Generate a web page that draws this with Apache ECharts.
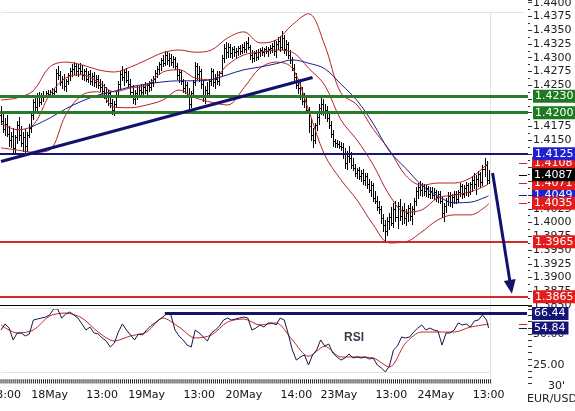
<!DOCTYPE html>
<html><head><meta charset="utf-8">
<script src="https://cdn.jsdelivr.net/npm/echarts/dist/echarts.min.js"></script>
<style>html,body{margin:0;padding:0;background:#fff}#c{width:575px;height:411px}</style>
</head><body><div id="c"></div>
<script>
// ---------- DATA ----------
const NCAT = 261; // category slots (bars + right margin)
const NTICK = 243; // bars carrying an axis tick
const tickLabelIdx  = [2, 24, 50, 72, 98, 120, 146, 167, 193, 215, 241];
const tickLabelText = ['13:00','18May','13:00','19May','13:00','20May','14:00','23May','13:00','24May','13:00'];

const opens = [
1.4195,1.4185,1.4170,1.4180,1.4162,1.4150,1.4158,1.4135,1.4155,1.4178,
1.4160,1.4145,1.4155,1.4140,1.4160,1.4172,1.4195,1.4220,1.4210,1.4228,
1.4220,1.4232,1.4230,1.4236,1.4234,1.4238,1.4235,1.4240,1.4272,1.4268,
1.4255,1.4262,1.4248,1.4258,1.4268,1.4276,1.4280,1.4285,1.4275,1.4282,
1.4276,1.4268,1.4275,1.4262,1.4270,1.4258,1.4266,1.4255,1.4262,1.4250,
1.4246,1.4240,1.4235,1.4228,1.4236,1.4218,1.4205,1.4215,1.4232,1.4252,
1.4270,1.4265,1.4274,1.4260,1.4252,1.4238,1.4225,1.4236,1.4232,1.4242,
1.4238,1.4246,1.4242,1.4250,1.4246,1.4256,1.4262,1.4272,1.4280,1.4288,
1.4295,1.4290,1.4305,1.4295,1.4300,1.4292,1.4298,1.4284,1.4268,1.4274,
1.4258,1.4245,1.4250,1.4232,1.4215,1.4235,1.4255,1.4285,1.4270,1.4276,
1.4252,1.4230,1.4242,1.4235,1.4258,1.4275,1.4255,1.4262,1.4258,1.4272,
1.4300,1.4318,1.4310,1.4320,1.4308,1.4315,1.4310,1.4313,1.4318,1.4312,
1.4320,1.4316,1.4326,1.4320,1.4305,1.4300,1.4308,1.4302,1.4310,1.4314,
1.4310,1.4315,1.4312,1.4316,1.4318,1.4322,1.4312,1.4325,1.4330,1.4320,
1.4335,1.4315,1.4325,1.4305,1.4295,1.4282,1.4265,1.4250,1.4245,1.4232,
1.4222,1.4228,1.4205,1.4175,1.4160,1.4150,1.4178,1.4192,1.4208,1.4215,
1.4200,1.4205,1.4190,1.4178,1.4162,1.4148,1.4145,1.4143,1.4140,1.4138,
1.4125,1.4108,1.4122,1.4118,1.4105,1.4100,1.4090,1.4095,1.4085,1.4090,
1.4078,1.4084,1.4070,1.4060,1.4068,1.4045,1.4040,1.4028,1.4025,1.4008,
1.3995,1.3985,1.4002,1.4010,1.4000,1.4025,1.4010,1.4030,1.4012,1.4022,
1.4008,1.4018,1.4026,1.4012,1.4025,1.4040,1.4058,1.4065,1.4060,1.4066,
1.4058,1.4062,1.4052,1.4058,1.4050,1.4056,1.4046,1.4052,1.4040,1.4018,
1.4030,1.4040,1.4048,1.4038,1.4046,1.4052,1.4042,1.4055,1.4066,1.4052,
1.4062,1.4068,1.4056,1.4070,1.4078,1.4070,1.4080,1.4088,1.4074,1.4098,
1.4105,1.4078];
const highs = [
1.4212,1.4200,1.4190,1.4195,1.4175,1.4165,1.4172,1.4160,1.4185,1.4192,
1.4175,1.4165,1.4170,1.4165,1.4180,1.4200,1.4225,1.4232,1.4235,1.4238,
1.4236,1.4240,1.4240,1.4242,1.4241,1.4244,1.4245,1.4280,1.4285,1.4275,
1.4266,1.4270,1.4262,1.4272,1.4282,1.4288,1.4292,1.4290,1.4288,1.4290,
1.4286,1.4280,1.4282,1.4276,1.4278,1.4272,1.4274,1.4268,1.4268,1.4262,
1.4258,1.4252,1.4246,1.4242,1.4240,1.4225,1.4222,1.4238,1.4258,1.4275,
1.4284,1.4280,1.4282,1.4276,1.4262,1.4250,1.4242,1.4248,1.4248,1.4252,
1.4250,1.4255,1.4254,1.4258,1.4262,1.4266,1.4278,1.4285,1.4292,1.4300,
1.4305,1.4312,1.4310,1.4308,1.4306,1.4304,1.4302,1.4290,1.4280,1.4278,
1.4262,1.4258,1.4255,1.4245,1.4240,1.4260,1.4292,1.4290,1.4285,1.4280,
1.4260,1.4248,1.4255,1.4262,1.4282,1.4280,1.4270,1.4276,1.4275,1.4305,
1.4325,1.4328,1.4326,1.4325,1.4320,1.4322,1.4318,1.4322,1.4324,1.4325,
1.4328,1.4330,1.4338,1.4324,1.4314,1.4312,1.4314,1.4316,1.4318,1.4320,
1.4318,1.4322,1.4320,1.4324,1.4326,1.4332,1.4330,1.4338,1.4340,1.4348,
1.4342,1.4332,1.4328,1.4314,1.4302,1.4288,1.4272,1.4262,1.4262,1.4246,
1.4236,1.4232,1.4210,1.4190,1.4172,1.4182,1.4200,1.4215,1.4232,1.4225,
1.4215,1.4212,1.4200,1.4185,1.4168,1.4152,1.4150,1.4148,1.4146,1.4145,
1.4135,1.4130,1.4140,1.4128,1.4118,1.4106,1.4100,1.4102,1.4096,1.4098,
1.4090,1.4090,1.4080,1.4075,1.4072,1.4058,1.4048,1.4040,1.4030,1.4015,
1.4005,1.4010,1.4018,1.4028,1.4035,1.4040,1.4038,1.4042,1.4030,1.4036,
1.4025,1.4032,1.4036,1.4030,1.4045,1.4065,1.4072,1.4076,1.4072,1.4070,
1.4068,1.4066,1.4064,1.4064,1.4062,1.4060,1.4058,1.4058,1.4046,1.4035,
1.4045,1.4055,1.4056,1.4052,1.4058,1.4058,1.4060,1.4072,1.4070,1.4068,
1.4074,1.4072,1.4074,1.4085,1.4090,1.4086,1.4094,1.4092,1.4105,1.4117,
1.4112,1.4096];
const lows = [
1.4180,1.4165,1.4160,1.4158,1.4140,1.4138,1.4128,1.4125,1.4145,1.4150,
1.4140,1.4130,1.4125,1.4130,1.4155,1.4165,1.4188,1.4200,1.4205,1.4212,
1.4215,1.4222,1.4228,1.4230,1.4229,1.4231,1.4230,1.4238,1.4262,1.4250,
1.4245,1.4242,1.4240,1.4252,1.4260,1.4266,1.4270,1.4268,1.4266,1.4270,
1.4262,1.4260,1.4258,1.4255,1.4252,1.4250,1.4248,1.4246,1.4244,1.4240,
1.4236,1.4226,1.4220,1.4214,1.4210,1.4198,1.4195,1.4210,1.4228,1.4245,
1.4260,1.4250,1.4255,1.4248,1.4232,1.4218,1.4216,1.4225,1.4228,1.4232,
1.4230,1.4236,1.4234,1.4240,1.4242,1.4248,1.4255,1.4265,1.4270,1.4278,
1.4284,1.4286,1.4288,1.4284,1.4286,1.4283,1.4280,1.4262,1.4255,1.4252,
1.4238,1.4236,1.4228,1.4206,1.4210,1.4230,1.4250,1.4262,1.4258,1.4245,
1.4222,1.4218,1.4228,1.4232,1.4250,1.4248,1.4245,1.4252,1.4250,1.4268,
1.4292,1.4300,1.4302,1.4302,1.4300,1.4303,1.4300,1.4305,1.4306,1.4308,
1.4310,1.4310,1.4315,1.4298,1.4292,1.4294,1.4296,1.4298,1.4304,1.4305,
1.4304,1.4308,1.4304,1.4308,1.4310,1.4305,1.4302,1.4315,1.4312,1.4316,
1.4308,1.4305,1.4300,1.4290,1.4278,1.4258,1.4245,1.4236,1.4225,1.4215,
1.4210,1.4200,1.4165,1.4150,1.4138,1.4145,1.4168,1.4180,1.4198,1.4195,
1.4190,1.4185,1.4172,1.4155,1.4140,1.4138,1.4138,1.4136,1.4132,1.4118,
1.4100,1.4098,1.4110,1.4100,1.4095,1.4085,1.4082,1.4080,1.4076,1.4070,
1.4068,1.4062,1.4055,1.4048,1.4040,1.4035,1.4022,1.4018,1.4000,1.3985,
1.3966,1.3978,1.3988,1.3995,1.3992,1.4002,1.3990,1.4005,1.3998,1.4000,
1.3995,1.4002,1.4005,1.3998,1.4015,1.4032,1.4045,1.4050,1.4048,1.4050,
1.4048,1.4046,1.4045,1.4044,1.4042,1.4040,1.4038,1.4035,1.4010,1.4002,
1.4020,1.4032,1.4030,1.4028,1.4035,1.4036,1.4038,1.4048,1.4045,1.4046,
1.4050,1.4048,1.4052,1.4058,1.4062,1.4052,1.4066,1.4064,1.4068,1.4085,
1.4070,1.4072];
const closes = [
1.4185,1.4170,1.4180,1.4162,1.4150,1.4158,1.4135,1.4155,1.4178,1.4160,
1.4145,1.4155,1.4140,1.4160,1.4172,1.4195,1.4220,1.4210,1.4228,1.4220,
1.4232,1.4230,1.4236,1.4234,1.4238,1.4235,1.4240,1.4272,1.4268,1.4255,
1.4262,1.4248,1.4258,1.4268,1.4276,1.4280,1.4285,1.4275,1.4282,1.4276,
1.4268,1.4275,1.4262,1.4270,1.4258,1.4266,1.4255,1.4262,1.4250,1.4246,
1.4240,1.4235,1.4228,1.4236,1.4218,1.4205,1.4215,1.4232,1.4252,1.4270,
1.4265,1.4274,1.4260,1.4252,1.4238,1.4225,1.4236,1.4232,1.4242,1.4238,
1.4246,1.4242,1.4250,1.4246,1.4256,1.4262,1.4272,1.4280,1.4288,1.4295,
1.4290,1.4305,1.4295,1.4300,1.4292,1.4298,1.4284,1.4268,1.4274,1.4258,
1.4245,1.4250,1.4232,1.4215,1.4235,1.4255,1.4285,1.4270,1.4276,1.4252,
1.4230,1.4242,1.4235,1.4258,1.4275,1.4255,1.4262,1.4258,1.4272,1.4300,
1.4318,1.4310,1.4320,1.4308,1.4315,1.4310,1.4313,1.4318,1.4312,1.4320,
1.4316,1.4326,1.4320,1.4305,1.4300,1.4308,1.4302,1.4310,1.4314,1.4310,
1.4315,1.4312,1.4316,1.4318,1.4322,1.4312,1.4325,1.4330,1.4320,1.4335,
1.4315,1.4325,1.4305,1.4295,1.4282,1.4265,1.4250,1.4245,1.4232,1.4222,
1.4228,1.4205,1.4175,1.4160,1.4150,1.4178,1.4192,1.4208,1.4215,1.4200,
1.4205,1.4190,1.4178,1.4162,1.4148,1.4145,1.4143,1.4140,1.4138,1.4125,
1.4108,1.4122,1.4118,1.4105,1.4100,1.4090,1.4095,1.4085,1.4090,1.4078,
1.4084,1.4070,1.4060,1.4068,1.4045,1.4040,1.4028,1.4025,1.4008,1.3995,
1.3985,1.4002,1.4010,1.4000,1.4025,1.4010,1.4030,1.4012,1.4022,1.4008,
1.4018,1.4026,1.4012,1.4025,1.4040,1.4058,1.4065,1.4060,1.4066,1.4058,
1.4062,1.4052,1.4058,1.4050,1.4056,1.4046,1.4052,1.4040,1.4018,1.4030,
1.4040,1.4048,1.4038,1.4046,1.4052,1.4042,1.4055,1.4066,1.4052,1.4062,
1.4068,1.4056,1.4070,1.4078,1.4070,1.4080,1.4088,1.4074,1.4098,1.4105,
1.4078,1.4087];

// Bollinger bands (sampled)
const bbIdx   = [0,8,16,24,32,40,48,56,64,72,80,88,96,104,112,120,128,136,144,152,160,168,176,184,192,200,208,216,224,232,240,241];
const bbUpper = [1.4223,1.4227,1.4240,1.4283,1.4292,1.4287,1.4278,1.4274,1.4283,1.4296,1.4309,1.4314,1.4310,1.4314,1.4336,1.4347,1.4327,1.4332,1.4360,1.4380,1.4323,1.4236,1.4214,1.4170,1.4132,1.4086,1.4068,1.4072,1.4072,1.4081,1.4105,1.4108];
const bbMid   = [1.4181,1.4169,1.4178,1.4232,1.4263,1.4269,1.4256,1.4238,1.4245,1.4250,1.4274,1.4278,1.4263,1.4260,1.4287,1.4305,1.4310,1.4314,1.4310,1.4281,1.4250,1.4187,1.4150,1.4105,1.4050,1.4019,1.4023,1.4045,1.4050,1.4056,1.4068,1.4071];
const bbLower = [1.4136,1.4132,1.4128,1.4132,1.4196,1.4232,1.4238,1.4210,1.4209,1.4214,1.4223,1.4241,1.4227,1.4219,1.4214,1.4245,1.4281,1.4292,1.4281,1.4205,1.4123,1.4078,1.4041,1.3996,1.3963,1.3965,1.3983,1.4005,1.4014,1.4014,1.4030,1.4035];
// long moving average (sampled)
const maIdx = [14,24,32,40,48,56,64,72,80,88,96,104,112,120,128,136,144,152,160,168,176,184,192,200,208,216,224,232,240,241];
const maVal = [1.4172,1.4190,1.4207,1.4221,1.4232,1.4239,1.4247,1.4252,1.4256,1.4258,1.4258,1.4260,1.4269,1.4278,1.4283,1.4289,1.4296,1.4290,1.4280,1.4252,1.4222,1.4180,1.4130,1.4099,1.4068,1.4048,1.4036,1.4037,1.4047,1.4049];

// RSI (every 2nd bar) and its average (bbIdx sampling)
const rsiStep = 2;
const rsi = [
53.2,58.1,54.8,45.2,50.8,50.8,48.4,50.0,61.3,62.1,
62.9,63.7,65.3,70.2,70.2,62.9,66.1,67.7,65.3,62.9,
58.1,53.2,55.6,50.8,50.0,46.8,44.4,39.5,42.7,51.6,
58.1,53.2,49.2,45.2,50.0,49.2,53.2,56.5,58.9,61.3,
63.7,66.4,65.3,53.2,48.4,45.2,41.1,39.5,53.2,50.8,
47.6,44.4,50.8,53.2,56.5,61.3,62.9,61.3,62.1,62.9,
63.7,62.9,53.2,54.8,57.3,55.6,58.9,58.9,57.3,62.9,
61.3,50.0,37.1,29.0,31.5,33.1,25.0,33.1,37.1,45.2,
40.3,41.9,34.7,31.5,29.0,30.6,33.9,30.6,31.5,30.6,
31.5,29.8,30.6,25.0,22.6,19.4,24.2,37.1,40.3,47.6,
46.8,47.6,51.6,54.8,57.3,53.2,54.8,53.2,52.4,41.1,
50.8,50.8,53.2,58.9,57.3,58.1,55.6,60.5,61.3,65.3,
61.3];
const rsiLast = 54.84;
const rsiMa = [57.3,50.8,53.2,64.5,66.9,62.9,51.6,44.4,48.4,51.6,62.9,55.6,46.8,49.2,59.7,62.1,57.3,58.9,45.2,32.0,40.0,31.5,31.5,30.6,23.4,42.7,51.6,51.6,51.6,55.6,57.7,58.0];

// annotation levels
const greenLevels = [1.4230, 1.4200];
const blueLevel = 1.4125;
const redLevels = [1.3965, 1.3865];
const trendStart = [0, 1.4111], trendEnd = [154, 1.4264];
const arrowStart = [242.5, 1.4090], arrowEnd = [251.5, 1.3883];
const lastClose = 1.4087;
const rsiLevel = 66.44, rsiLevelFrom = 81;

// ---------- CHART ----------
const FONT = 'DejaVu Sans';
const RSI_MIN = 10, RSI_MAX = 72.5;   // lower panel extent (includes the time-tick strip)
const TICK_TOP = 13.5;                // top of the per-bar time ticks
const categories = [];
for (let i = 0; i < NCAT; i++) categories.push('');
tickLabelIdx.forEach((k, j) => { categories[k] = tickLabelText[j]; });

const bars = closes.map((c, i) => [i, opens[i], highs[i], lows[i], c]);
const pairs = (idx, vals) => vals.map((v, k) => [idx[k], v]);
const rsiData = rsi.map((v, k) => [k * rsiStep, v]).concat([[241, rsiLast]]);
const tickMarks = [];
for (let i = 0; i < NTICK; i++) tickMarks.push(TICK_TOP);

function renderOHLC(params, api) {
  const i = api.value(0);
  const pO = api.coord([i, api.value(1)]);
  const pH = api.coord([i, api.value(2)]);
  const pL = api.coord([i, api.value(3)]);
  const pC = api.coord([i, api.value(4)]);
  const x = Math.round(pH[0]) + 0.5;
  const st = { stroke: '#000', lineWidth: 1 };
  const yo = Math.round(pO[1]) + 0.5, yc = Math.round(pC[1]) + 0.5;
  return { type: 'group', children: [
    { type: 'line', shape: { x1: x, y1: Math.round(pH[1]), x2: x, y2: Math.round(pL[1]) + 1 }, style: st },
    { type: 'line', shape: { x1: x - 1.5, y1: yo, x2: x, y2: yo }, style: st },
    { type: 'line', shape: { x1: x, y1: yc, x2: x + 1.5, y2: yc }, style: st }
  ]};
}

function boxLabel(text, bg) {
  return { show: true, position: 'end', distance: 5, formatter: text, color: '#fff',
    backgroundColor: bg, padding: [1, 3, 1, 2], fontSize: 11, lineHeight: 11, fontFamily: FONT };
}
function ls(color, width) { return { color: color, width: width, type: 'solid', opacity: 1 }; }
const noLabel = { show: false };
const fmt4 = v => v.toFixed(4);
const last = a => a[a.length - 1];

const mainMarks = [
  [{ coord: [0, 1.4383], lineStyle: ls('#e2e2e2', 1), label: noLabel }, { coord: [258, 1.4383] }],
  [{ coord: [242, 1.4383], lineStyle: ls('#e2e2e2', 1), label: noLabel }, { coord: [242, 1.3850] }],
  [{ coord: [256, last(maVal)], lineStyle: ls('#1f1fa8', 1), label: boxLabel(fmt4(last(maVal)), '#2020d0') }, { coord: [260, last(maVal)] }],
  [{ coord: [256, last(bbUpper)], lineStyle: ls('#d02020', 1), label: boxLabel(fmt4(last(bbUpper)), '#e31b1b') }, { coord: [260, last(bbUpper)] }],
  [{ coord: [256, last(bbMid)], lineStyle: ls('#d02020', 1), label: boxLabel(fmt4(last(bbMid)), '#e31b1b') }, { coord: [260, last(bbMid)] }],
  { yAxis: greenLevels[0], lineStyle: ls('#2a7a2a', 3), label: boxLabel(fmt4(greenLevels[0]), '#1f7a1f') },
  { yAxis: greenLevels[1], lineStyle: ls('#2a7a2a', 3), label: boxLabel(fmt4(greenLevels[1]), '#1f7a1f') },
  { yAxis: blueLevel, lineStyle: ls('#16167a', 2), label: boxLabel(fmt4(blueLevel), '#2020d0') },
  { yAxis: redLevels[0], lineStyle: ls('#d42a2a', 2), label: boxLabel(fmt4(redLevels[0]), '#e31b1b') },
  { yAxis: redLevels[1], lineStyle: ls('#d42a2a', 2), label: boxLabel(fmt4(redLevels[1]), '#e31b1b') },
  [{ coord: [256, lastClose], lineStyle: ls('#000', 1), label: boxLabel(fmt4(lastClose), '#000') }, { coord: [260, lastClose] }],
  [{ coord: [256, last(bbLower)], lineStyle: ls('#d02020', 1), label: boxLabel(fmt4(last(bbLower)), '#e31b1b') }, { coord: [260, last(bbLower)] }],
  [{ coord: trendStart, lineStyle: ls('#12126e', 3), label: noLabel }, { coord: trendEnd }],
  [{ coord: arrowStart, symbol: 'none', lineStyle: ls('#12126e', 3), label: noLabel },
   { coord: arrowEnd, symbol: 'triangle', symbolSize: [12, 14] }]
];

const rsiMarks = [
  [{ coord: [0, 70.7], lineStyle: ls('#e2e2e2', 1), label: noLabel }, { coord: [242, 70.7] }],
  [{ coord: [0, 19.1], lineStyle: ls('#e2e2e2', 1), label: noLabel }, { coord: [242, 19.1] }],
  [{ coord: [242, RSI_MAX], lineStyle: ls('#e2e2e2', 1), label: noLabel }, { coord: [242, 14.5] }],
  [{ coord: [rsiLevelFrom, rsiLevel], lineStyle: ls('#14146e', 3), label: boxLabel(rsiLevel.toFixed(2), '#141478') }, { coord: [260, rsiLevel] }],
  [{ coord: [256, last(rsiMa)], lineStyle: ls('#d02020', 1), label: noLabel }, { coord: [260, last(rsiMa)] }],
  [{ coord: [256, rsiLast], lineStyle: ls('#14146e', 1), label: boxLabel(rsiLast.toFixed(2), '#141478') }, { coord: [260, rsiLast] }]
];

const chart = echarts.init(document.getElementById('c'), null, { renderer: 'canvas' });
chart.setOption({
  animation: false,
  backgroundColor: '#fff',
  grid: [
    { left: 0, right: 47, top: 0, height: 305, outerBoundsMode: 'none' },
    { left: 0, right: 47, top: 306.1, height: 77.5, outerBoundsMode: 'none' }
  ],
  xAxis: [
    { type: 'category', gridIndex: 0, data: categories, boundaryGap: true,
      axisLine: { show: true, lineStyle: { color: '#000', width: 1 } },
      axisTick: { show: false }, axisLabel: { show: false }, splitLine: { show: false } },
    { type: 'category', gridIndex: 1, data: categories, boundaryGap: true,
      axisLine: { show: false },
      axisTick: { show: false },
      axisLabel: { show: true, interval: 0, margin: 6, fontSize: 11, fontFamily: FONT, color: '#111', formatter: v => v },
      splitLine: { show: false } }
  ],
  yAxis: [
    { type: 'value', gridIndex: 0, position: 'right', min: 1.3850, max: 1.4405, interval: 0.0025,
      axisLine: { show: false }, splitLine: { show: false },
      axisTick: { show: true, length: 4, lineStyle: { color: '#333' } },
      minorTick: { show: true, splitNumber: 2, length: 2, lineStyle: { color: '#333' } },
      axisLabel: { margin: 5, fontSize: 11, fontFamily: FONT, color: '#222',
        formatter: v => (Math.round(v * 10000) % 25 === 0 ? v.toFixed(4) : '') } },
    { type: 'value', gridIndex: 1, position: 'right', min: RSI_MIN, max: RSI_MAX, interval: 5,
      axisLine: { show: false }, splitLine: { show: false },
      axisTick: { show: true, length: 4, lineStyle: { color: '#333' } },
      axisLabel: { margin: 5, fontSize: 11, fontFamily: FONT, color: '#222',
        formatter: v => (v === 25 || v === 50 ? v.toFixed(2) : '') } }
  ],
  series: [
    { type: 'custom', xAxisIndex: 0, yAxisIndex: 0, renderItem: renderOHLC, data: bars,
      encode: { x: 0, y: [1, 2, 3, 4] }, z: 2, silent: true },
    { type: 'bar', xAxisIndex: 1, yAxisIndex: 1, data: tickMarks, barWidth: 1,
      itemStyle: { color: '#222' }, z: 3, silent: true, emphasis: { disabled: true } },
    { type: 'line', xAxisIndex: 0, yAxisIndex: 0, data: pairs(bbIdx, bbUpper), showSymbol: false, smooth: 0.35,
      lineStyle: { color: '#b52424', width: 1 }, z: 3, silent: true },
    { type: 'line', xAxisIndex: 0, yAxisIndex: 0, data: pairs(bbIdx, bbMid), showSymbol: false, smooth: 0.35,
      lineStyle: { color: '#b52424', width: 1 }, z: 3, silent: true },
    { type: 'line', xAxisIndex: 0, yAxisIndex: 0, data: pairs(bbIdx, bbLower), showSymbol: false, smooth: 0.35,
      lineStyle: { color: '#b52424', width: 1 }, z: 3, silent: true },
    { type: 'line', xAxisIndex: 0, yAxisIndex: 0, data: pairs(maIdx, maVal), showSymbol: false, smooth: 0.35,
      lineStyle: { color: '#1e1e8c', width: 1 }, z: 3, silent: true },
    { type: 'line', xAxisIndex: 0, yAxisIndex: 0, data: [], z: 5, silent: true,
      markLine: { silent: true, symbol: 'none', animation: false, precision: 4,
        lineStyle: { type: 'solid' }, emphasis: { disabled: true }, data: mainMarks } },
    { type: 'line', xAxisIndex: 1, yAxisIndex: 1, data: pairs(bbIdx, rsiMa), showSymbol: false, smooth: 0.3,
      lineStyle: { color: '#c02a2a', width: 1 }, z: 3, silent: true },
    { type: 'line', xAxisIndex: 1, yAxisIndex: 1, data: rsiData, showSymbol: false,
      lineStyle: { color: '#16164e', width: 1 }, z: 4, silent: true },
    { type: 'line', xAxisIndex: 1, yAxisIndex: 1, data: [], z: 5, silent: true,
      markLine: { silent: true, symbol: 'none', animation: false,
        lineStyle: { type: 'solid' }, emphasis: { disabled: true }, data: rsiMarks } }
  ],
  graphic: [
    { type: 'text', left: 344, top: 332, style: { text: 'RSI', font: 'bold 12px "Liberation Sans"', fill: '#3a3a50' } },
    { type: 'text', left: 548, top: 381, style: { text: "30'", font: '11px "DejaVu Sans"', fill: '#222' } },
    { type: 'text', left: 527, top: 394, style: { text: 'EUR/USD', font: '11px "DejaVu Sans"', fill: '#222' } }
  ]
});
</script></body></html>
